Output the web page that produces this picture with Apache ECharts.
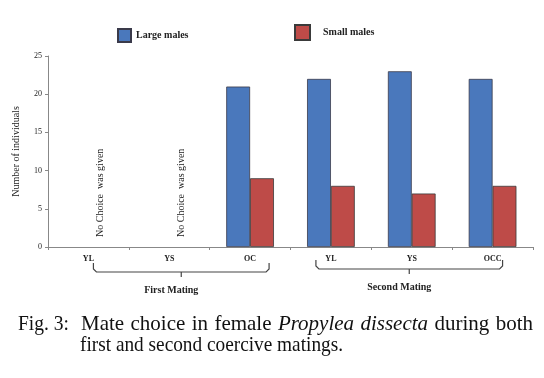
<!DOCTYPE html>
<html><head><meta charset="utf-8">
<script src="https://cdn.jsdelivr.net/npm/echarts@6/dist/echarts.min.js"></script>
<style>html,body{margin:0;padding:0;background:#fff}#c{width:544px;height:378px}</style>
</head><body><div id="c"></div>
<script>
var categories = ['YL', 'YS', 'OC', 'YL', 'YS', 'OCC'];
var largeMales = [null, null, 21, 22, 23, 22];
var smallMales = [0, 0, 9, 8, 7, 8];
var noChoice = [true, true, false, false, false, false];
var yTicks = [0, 5, 10, 15, 20, 25];
var groups = [
  {name: 'First Mating', from: 0, to: 2},
  {name: 'Second Mating', from: 3, to: 5}
];

var serif = '"Liberation Serif", "DejaVu Serif", serif';
var chart = echarts.init(document.getElementById('c'));

var smallData = smallMales.map(function (v, i) {
  if (noChoice[i]) {
    return {
      value: v,
      itemStyle: {borderWidth: 0, color: 'rgba(0,0,0,0)'},
      label: {
        show: true, formatter: 'No Choice  was given', position: 'top', rotate: 90,
        distance: 10, align: 'left', verticalAlign: 'middle',
        fontFamily: serif, fontSize: 10, color: '#222'
      }
    };
  }
  return v;
});

var option = {
  animation: false,
  backgroundColor: '#fff',
  grid: {left: 48, right: 11, top: 56, bottom: 131},
  legend: [
    {data: ['Large males'], left: 112, top: 23, itemWidth: 13, itemHeight: 13, itemGap: 4,
     icon: 'rect', textStyle: {fontFamily: serif, fontSize: 10, fontWeight: 'bold', color: '#222'}},
    {data: ['Small males'], left: 289, top: 19, itemWidth: 15, itemHeight: 15, itemGap: 13,
     icon: 'rect', textStyle: {fontFamily: serif, fontSize: 10, fontWeight: 'bold', color: '#222', padding: [0, 0, 0, 8]}}
  ],
  xAxis: {
    type: 'category', data: categories,
    axisLine: {lineStyle: {color: '#888', width: 1}},
    axisTick: {show: true, length: 3, inside: false, lineStyle: {color: '#888'}},
    axisLabel: {fontFamily: serif, fontSize: 8, fontWeight: 'bold', color: '#222', margin: 8}
  },
  yAxis: {
    type: 'value', min: yTicks[0], max: yTicks[yTicks.length - 1], interval: yTicks[1] - yTicks[0],
    name: 'Number of individuals', nameLocation: 'middle', nameGap: 27,
    nameTextStyle: {fontFamily: serif, fontSize: 10, color: '#222'},
    axisLine: {show: true, lineStyle: {color: '#888'}},
    axisTick: {show: true, length: 3, lineStyle: {color: '#888'}},
    splitLine: {show: false},
    axisLabel: {fontFamily: serif, fontSize: 8, color: '#222', margin: 6}
  },
  series: [
    {name: 'Large males', type: 'bar', data: largeMales, barGap: '0%', barCategoryGap: '41%',
     itemStyle: {color: '#4A78BC', borderColor: '#3a3a4a', borderWidth: 0.8}},
    {name: 'Small males', type: 'bar', data: smallData,
     itemStyle: {color: '#BE4B48', borderColor: '#3a3a3a', borderWidth: 0.8}}
  ]
};
chart.setOption(option);

// Brackets under category groups, positioned from the category axis
var els = [];
var bracketY = [272, 269];
groups.forEach(function (g, k) {
  var x1 = chart.convertToPixel({xAxisIndex: 0}, g.from) + (k === 0 ? 5 : -15);
  var x2 = chart.convertToPixel({xAxisIndex: 0}, g.to) + (k === 0 ? 19 : 10);
  var y = bracketY[k];
  var xm = (x1 + x2) / 2;
  els.push({type: 'polyline', shape: {points: [[x1, y - 9], [x1, y - 3], [x1 + 3, y], [x2 - 3, y], [x2, y - 3], [x2, y - 9]]},
    style: {stroke: '#444', lineWidth: 1.2, fill: null}});
  els.push({type: 'line', shape: {x1: xm, y1: y, x2: xm, y2: y + 5}, style: {stroke: '#444', lineWidth: 1.2}});
  els.push({type: 'text', x: xm - 10, y: y + 18, style: {text: g.name, fontFamily: serif, fontSize: 10,
    fontWeight: 'bold', fill: '#222', align: 'center', verticalAlign: 'middle'}});
});

// Caption: justified first line
var capSize = 21;
var ctx = document.createElement('canvas').getContext('2d');
function measure(t, italic) {
  ctx.font = (italic ? 'italic ' : '') + capSize + 'px ' + serif;
  return ctx.measureText(t).width;
}
var line1 = [
  {t: 'Mate', i: false}, {t: 'choice', i: false}, {t: 'in', i: false}, {t: 'female', i: false},
  {t: 'Propylea', i: true}, {t: 'dissecta', i: true}, {t: 'during', i: false}, {t: 'both', i: false}
];
var startX = 81, endX = 533;
var widths = line1.map(function (w) { return measure(w.t, w.i); });
var total = widths.reduce(function (a, b) { return a + b; }, 0);
var gap = (endX - startX - total) / (line1.length - 1);
var cx = startX;
line1.forEach(function (w, i) {
  els.push({type: 'text', x: cx, y: 324, style: {text: w.t, fontFamily: serif, fontSize: capSize,
    fontStyle: w.i ? 'italic' : 'normal', fill: '#111', verticalAlign: 'middle'}});
  cx += widths[i] + gap;
});
var figLabel = 'Fig. 3:';
els.push({type: 'text', x: 18, y: 324, scaleX: 51 / measure(figLabel, false),
  style: {text: figLabel, fontFamily: serif, fontSize: capSize, fill: '#111', verticalAlign: 'middle'}});
var line2 = 'first and second coercive matings.';
var l2w = measure(line2, false);
els.push({type: 'text', x: 80, y: 345, scaleX: 263 / l2w, style: {text: line2, fontFamily: serif, fontSize: capSize, fill: '#111', verticalAlign: 'middle'}});
chart.setOption({graphic: els});
</script>
</body></html>
